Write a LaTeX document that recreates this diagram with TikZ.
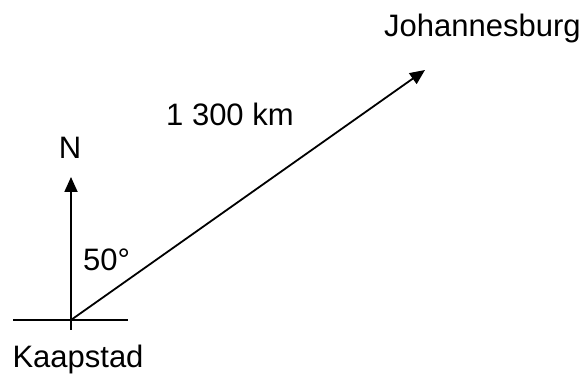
\documentclass[tikz,border=0pt]{standalone}
\usepackage{fontspec}
\setmainfont{Liberation Sans}
\usetikzlibrary{positioning,arrows.meta}

\begin{document}
\begin{tikzpicture}[
      x=1pt, y=1pt,
      font=\fontsize{31}{35}\selectfont,
      line/.style={line width=1.8pt},
      vec/.style={line, -{Triangle[length=15pt,width=13pt]}},
      lbl/.style={inner sep=0pt},
    ]
    \useasboundingbox (0,0) rectangle (588,374);
    % start point and bearing ends
    \coordinate (kaap) at (71,54);
    \coordinate (north) at (71,197);
    \coordinate (joburg) at (425,304);
    \coordinate (west) at (13,54);
    \coordinate (east) at (128,54);
    \coordinate (tick) at (71,44);
    % base line and tick
    \draw[line] (west) -- (east);
    \draw[line] (kaap) -- (tick);
    % north and bearing vectors
    \draw[vec] (kaap) -- (north);
    \draw[vec] (kaap) -- (joburg);
    % labels
    \node[lbl, anchor=base] (lblN) at (70,215) {N};
    \node[lbl, anchor=base west] (ang) at (83,103) {50°};
    \node[lbl, anchor=base] (kaaplbl) at (78,6) {Kaapstad};
    \node[lbl, anchor=base west] (joburglbl) at (384,337) {Johannesburg};
    \node[lbl, anchor=base west] (dist) at (166,248) {1 300 km};
  \end{tikzpicture}
\end{document}
